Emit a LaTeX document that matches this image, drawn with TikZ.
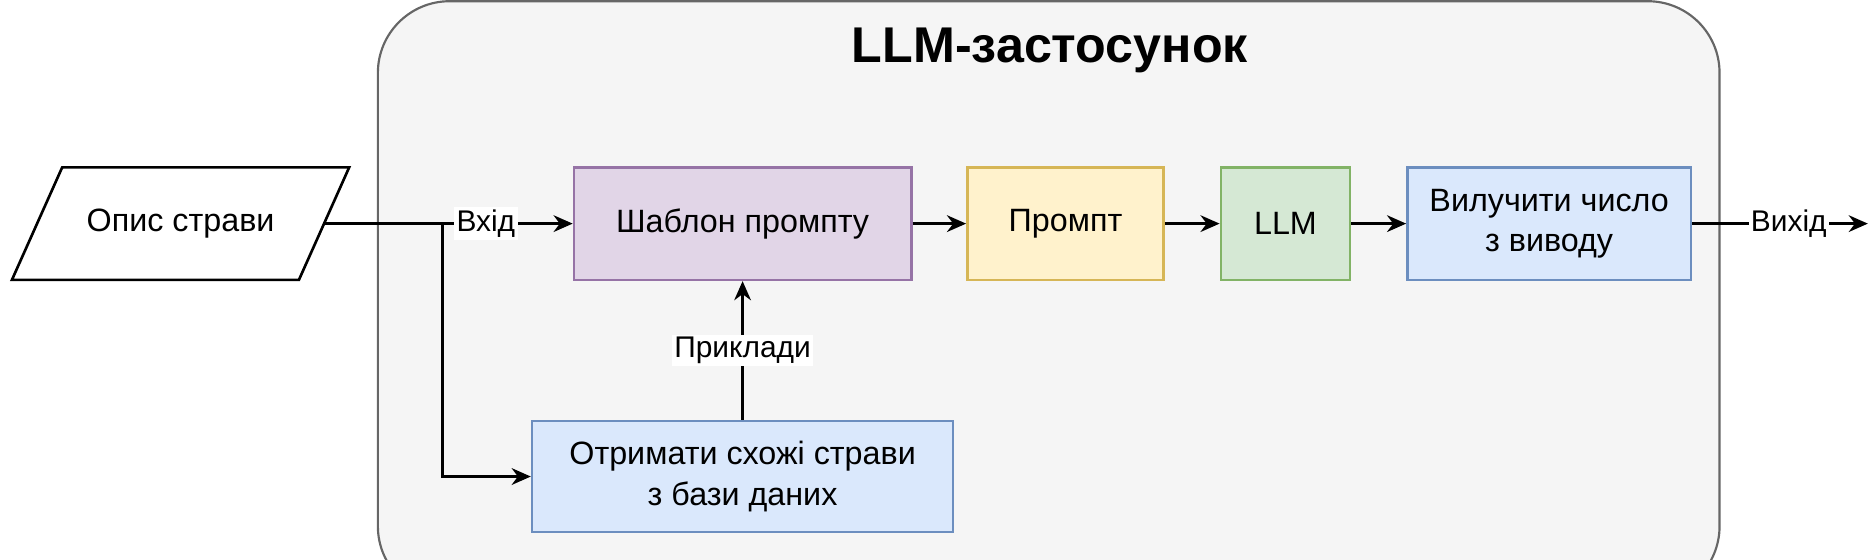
\documentclass[tikz,border=0pt]{standalone}
\usepackage{fontspec}
\setmainfont{Liberation Sans}
\usetikzlibrary{arrows.meta}
\definecolor{cfill}{HTML}{F5F5F5}\definecolor{cline}{HTML}{666666}
\definecolor{pf}{HTML}{E1D5E7}\definecolor{pl}{HTML}{9673A6}
\definecolor{yf}{HTML}{FFF2CC}\definecolor{yl}{HTML}{D6B656}
\definecolor{gf}{HTML}{D5E8D4}\definecolor{gl}{HTML}{82B366}
\definecolor{bf}{HTML}{DAE8FC}\definecolor{bl}{HTML}{6C8EBF}
\begin{document}
\begin{tikzpicture}[x=0.5pt,y=-0.5pt,
 box/.style={draw=#1,line width=1.1pt,minimum height=47pt,inner sep=0pt,align=center,font=\fontsize{13.5}{17}\selectfont},
 arr/.style={line width=1.1pt,-{Stealth[length=8pt,width=7pt]}},
 lab/.style={fill=white,inner sep=1pt,font=\fontsize{12.5}{14}\selectfont}]
\useasboundingbox (0,0) rectangle (1568,468);
\draw[fill=cfill,draw=cline,line width=0.9pt,rounded corners=30pt] (316,1) rectangle (1438,500);
\node[font=\bfseries\fontsize{21}{24}\selectfont] (title) at (878,42) {LLM-застосунок};
\draw[line width=1.1pt,fill=white] (52,140) -- (292,140) -- (250,234) -- (10,234) -- cycle;
\node[minimum width=120pt,minimum height=47pt,inner sep=0pt,font=\fontsize{13.5}{17}\selectfont] (opis) at (151,187) {Опис страви};
\node[box=pl,fill=pf,minimum width=141pt] (shab) at (621,187) {Шаблон промпту};
\node[box=yl,fill=yf,minimum width=82pt] (prompt) at (891,187) {Промпт};
\node[box=gl,fill=gf,minimum width=54pt] (llm) at (1075,187) {LLM};
\node[box=bl,fill=bf,minimum width=118.5pt] (vyl) at (1295.5,187) {Вилучити число\\з виводу};
\node[box=bl,fill=bf,minimum width=176pt,minimum height=46.5pt] (otr) at (621,398.5) {Отримати схожі страви\\з бази даних};
\coordinate (br) at (370,187);
\coordinate (out) at (1562,187);
\draw[arr] (opis.east) -- (shab.west) node[lab,pos=0.65] {Вхід};
\draw[arr] (br) |- (otr.west);
\draw[arr] (otr.north) -- (shab.south) node[lab,midway] {Приклади};
\draw[arr] (shab) -- (prompt);
\draw[arr] (prompt) -- (llm);
\draw[arr] (llm) -- (vyl);
\draw[arr] (vyl.east) -- (out) node[lab,pos=0.55] {Вихід};
\end{tikzpicture}
\end{document}
